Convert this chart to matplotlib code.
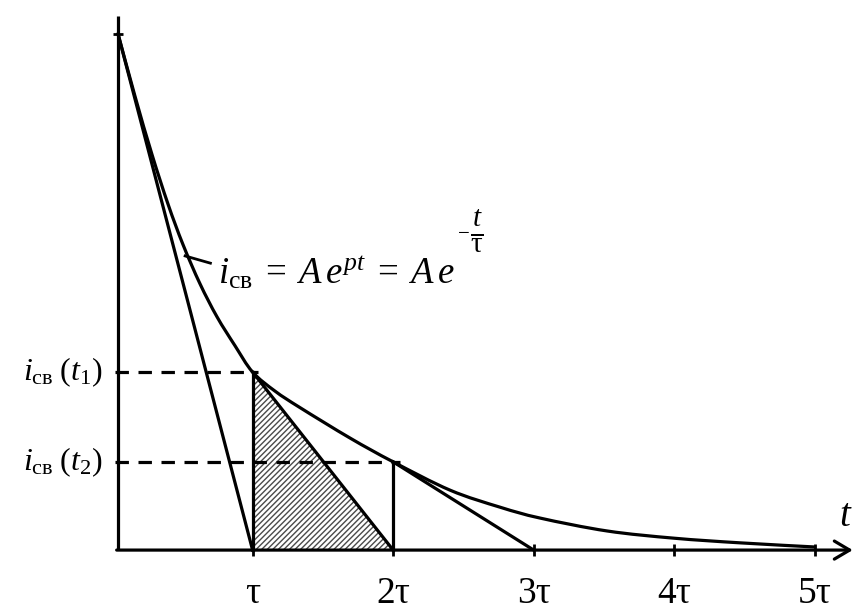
import matplotlib
matplotlib.use("Agg")
import matplotlib.pyplot as plt
from matplotlib.patches import Polygon, PathPatch
from matplotlib.path import Path

plt.rcParams['font.family'] = ['Liberation Serif', 'DejaVu Serif']
plt.rcParams['mathtext.fontset'] = 'custom'
plt.rcParams['mathtext.rm'] = 'Liberation Serif'
plt.rcParams['mathtext.it'] = 'Liberation Serif:italic'
plt.rcParams['mathtext.bf'] = 'Liberation Serif:bold'
plt.rcParams['hatch.linewidth'] = 1.0

# ---- data (time in units of tau, current normalised to A = 1) ----
t_curve = [0.043, 0.164, 0.285, 0.399, 0.505, 0.626, 0.747, 0.875, 1.0, 1.16, 1.338,
           1.694, 2.0, 2.406, 2.762, 3.046, 3.523, 4.0, 4.47, 5.0]
i_curve = [1.0, 0.879, 0.766, 0.670, 0.592, 0.516, 0.452, 0.396, 0.345, 0.308, 0.276,
           0.217, 0.171, 0.116, 0.083, 0.062, 0.037, 0.023, 0.014, 0.006]
t_axis = 0.043          # position of the vertical axis
t1, i1 = 1.0, 0.345     # i_cb(t1)
t2, i2 = 2.0, 0.171     # i_cb(t2)
tick_pos = [1, 2, 3, 4, 5]
tick_labels = ['τ', '2τ', '3τ', '4τ', '5τ']

fig = plt.figure(figsize=(8.55, 6.12), dpi=100)
ax = fig.add_axes([0, 0, 1, 1])
ax.set_xlim(-0.797, 5.286)
ax.set_ylim(-0.120, 1.066)
ax.axis('off')

lw = 2.3
k = 'black'

# hatched triangle under the tangent at t1
tri = Polygon([(t1, 0), (t1, i1), (t2, 0)], closed=True, facecolor='white',
              edgecolor='#4a4a4a', hatch='//////', lw=0)
ax.add_patch(tri)

# axes
ax.plot([t_axis, t_axis], [0, 1.035], color=k, lw=lw, solid_capstyle='butt')
ax.annotate('', xy=(5.27, 0), xytext=(t_axis - 0.01, 0),
            arrowprops=dict(arrowstyle='->,head_length=1.1,head_width=0.65',
                            lw=lw, color=k, shrinkA=0, shrinkB=0))
ax.plot(tick_pos, [0] * len(tick_pos), ls='none', marker='|', ms=8, mew=2, color=k)
ax.plot([t_axis], [1.0], ls='none', marker='_', ms=7, mew=2, color=k)

# exponential curve: smooth Bezier path through the read points
pts = list(zip(t_curve, i_curve))
verts = [pts[0]]
codes = [Path.MOVETO]
n = len(pts)
for j in range(n - 1):
    p0 = pts[j - 1] if j > 0 else pts[j]
    p1 = pts[j]
    p2 = pts[j + 1]
    p3 = pts[j + 2] if j + 2 < n else pts[j + 1]
    c1 = (p1[0] + (p2[0] - p0[0]) / 6, p1[1] + (p2[1] - p0[1]) / 6)
    c2 = (p2[0] - (p3[0] - p1[0]) / 6, p2[1] - (p3[1] - p1[1]) / 6)
    verts += [c1, c2, p2]
    codes += [Path.CURVE4] * 3
ax.add_patch(PathPatch(Path(verts, codes), facecolor='none', edgecolor=k, lw=lw,
                       capstyle='round', joinstyle='round'))

# tangents
ax.plot([t_axis, 1.0], [1.0, 0], color=k, lw=lw)
ax.plot([t1, t1 + 1], [i1, 0], color=k, lw=lw)
ax.plot([t2, t2 + 1], [i2, 0], color=k, lw=lw)

# verticals
ax.plot([t1, t1], [0, i1], color=k, lw=lw)
ax.plot([t2, t2], [0, i2], color=k, lw=lw)

# dashed levels
ax.plot([t_axis - 0.02, t1 + 0.04], [i1, i1], color=k, lw=lw, ls=(0, (4.2, 3.0)))
ax.plot([t_axis - 0.02, t2 + 0.05], [i2, i2], color=k, lw=lw, ls=(0, (4.2, 3.0)))

# leader line to the formula
ax.plot([0.52, 0.70], [0.570, 0.556], color=k, lw=2.0)

# texts
for p, lab in zip(tick_pos, tick_labels):
    ax.text(p, -0.1035, lab, ha='center', va='baseline', fontsize=27)

ax.text(5.22, 0.047, r'$t$', ha='center', va='baseline', fontsize=28)

ax.text(-0.07, i1, r'$i_{\mathrm{св}}\;(t_1)$', ha='right', va='center', fontsize=23)
ax.text(-0.07, i2, r'$i_{\mathrm{св}}\;(t_2)$', ha='right', va='center', fontsize=23)

main = ax.text(0.755, 0.517,
               r'$i_{\mathrm{св}}\;=\;A\,e^{pt}\;=\;A\,e$',
               ha='left', va='baseline', fontsize=26.5)
ax.annotate(r'$-$', xy=(1.0, 0.0), xycoords=main,
            xytext=(6, 42), textcoords='offset points',
            ha='center', va='center', fontsize=15)
ax.annotate(r'$\frac{t}{\mathrm{τ}}$', xy=(1.0, 0.0), xycoords=main,
            xytext=(16, 43), textcoords='offset points',
            ha='center', va='center', fontsize=30)

fig.savefig('out.png', dpi=100, facecolor='white')
